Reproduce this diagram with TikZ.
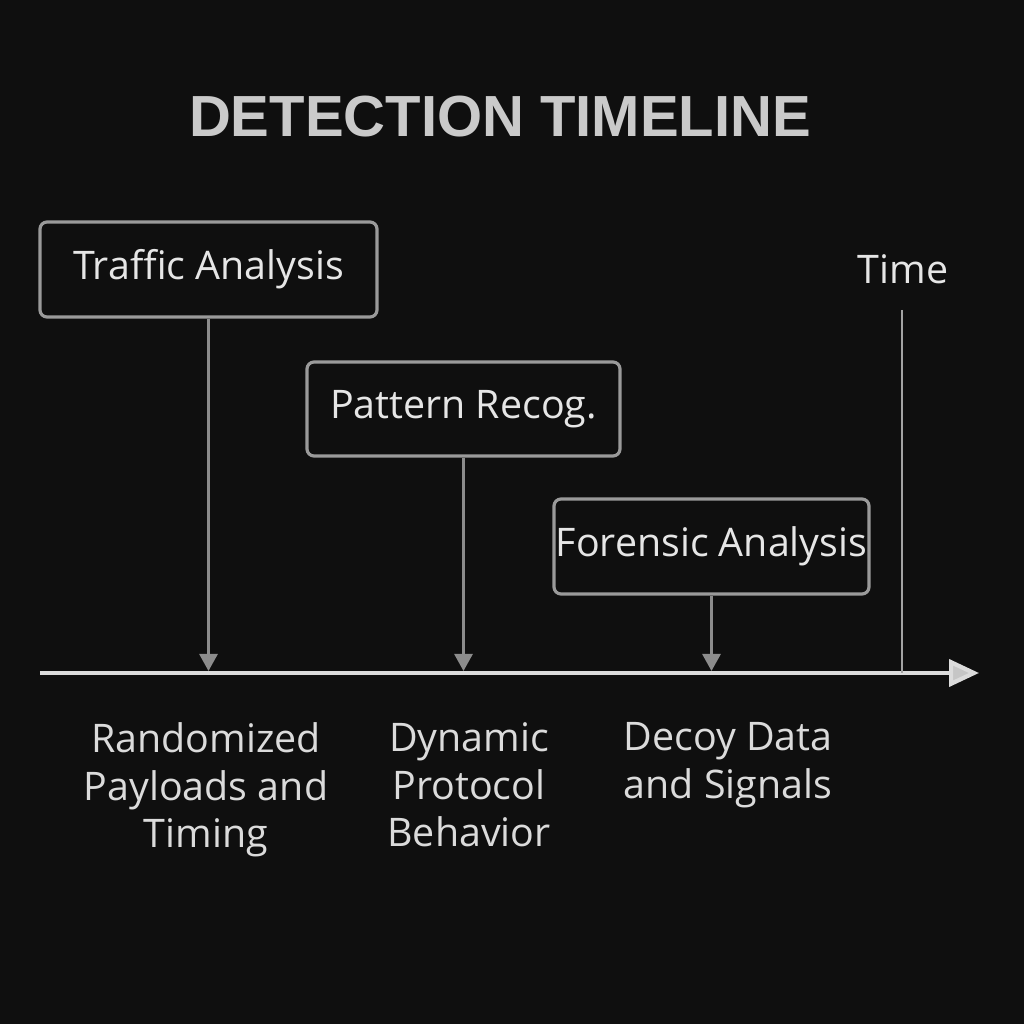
\documentclass[tikz,border=0pt]{standalone}
\usepackage{fontspec}
\setmainfont{Open Sans}
\newfontfamily\titlefont{Liberation Sans}
\usetikzlibrary{arrows.meta}
\definecolor{bgdark}{HTML}{0F0F0F}
\definecolor{boxline}{HTML}{9A9A9A}
\definecolor{linkgray}{HTML}{8C8C8C}
\definecolor{axisgray}{HTML}{DCDCDC}
\definecolor{textlight}{HTML}{E6E6E6}
\begin{document}
\begin{tikzpicture}
  \tikzset{stagebox/.style={draw=boxline, line width=0.9pt, rounded corners=2pt,
             text=textlight, font=\fontsize{11.2}{13}\selectfont, inner sep=0pt},
           link/.style={draw=linkgray, line width=0.8pt,
             -{Triangle[width=1.8mm,length=1.7mm,fill=linkgray]}},
           method/.style={text=textlight!95!black, align=center, anchor=north,
             font=\fontsize{11.2}{13.5}\selectfont, inner sep=0pt}}
  \fill[bgdark] (0,0) rectangle (10.24,10.24);
  \node[text=textlight!88!black, font=\titlefont\bfseries\fontsize{16.5}{20}\selectfont]
    (title) at (5.0,9.07) {DETECTION TIMELINE};
  % stages
  \node[stagebox, minimum width=3.37cm, minimum height=0.95cm] (traffic) at (2.085,7.545) {Traffic Analysis};
  \node[stagebox, minimum width=3.13cm, minimum height=0.94cm] (pattern) at (4.635,6.15) {Pattern Recog.};
  \node[stagebox, minimum width=3.15cm, minimum height=0.95cm] (forensic) at (7.115,4.775) {Forensic Analysis};
  % axis
  \coordinate (start) at (0.40,3.51);
  \coordinate (end) at (9.79,3.51);
  \coordinate (t1) at (2.085,3.53);
  \coordinate (t2) at (4.635,3.53);
  \coordinate (t3) at (7.115,3.53);
  \coordinate (ttop) at (9.02,7.14);
  \coordinate (tbot) at (9.02,3.51);
  \draw[axisgray, line width=1.2pt, -{Triangle[width=2.7mm,length=3mm,fill=axisgray!90!black]}] (start) -- (end);
  \draw[link] (traffic.south) -- (t1);
  \draw[link] (pattern.south) -- (t2);
  \draw[link] (forensic.south) -- (t3);
  \draw[linkgray!80!white, line width=0.8pt] (ttop) -- (tbot);
  \node[text=textlight, font=\fontsize{11.2}{13}\selectfont] (time) at (9.03,7.55) {Time};
  % methods
  \node[method] (random) at (2.06,3.02) {Randomized\\Payloads and\\Timing};
  \node[method] (dynamic) at (4.69,3.02) {Dynamic\\Protocol\\Behavior};
  \node[method] (decoy) at (7.28,3.02) {Decoy Data\\and Signals};
\end{tikzpicture}
\end{document}
